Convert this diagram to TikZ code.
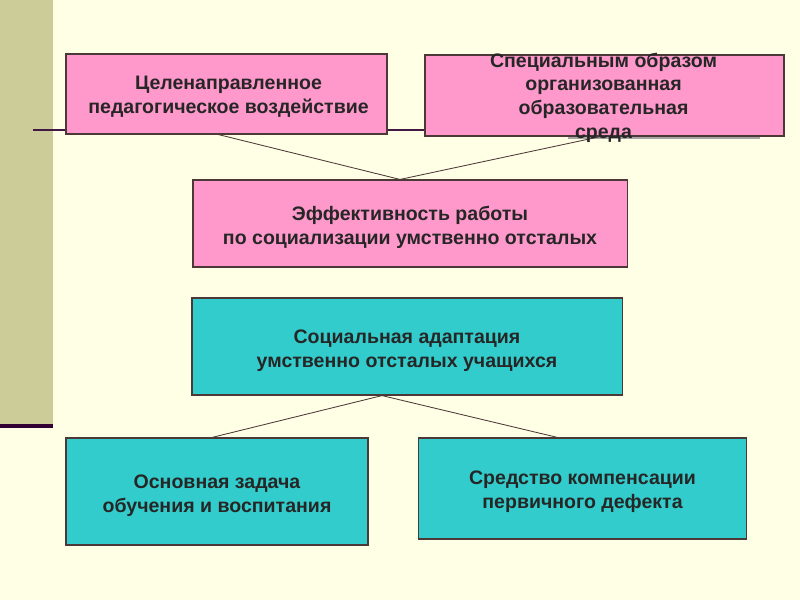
\documentclass[tikz,border=0pt]{standalone}
\usepackage{fontspec}
\setmainfont{Liberation Sans}
\usepackage{tikz}
\usetikzlibrary{calc}
\definecolor{cream}{HTML}{FFFFE5}
\definecolor{khaki}{HTML}{CCCC99}
\definecolor{plum}{HTML}{330033}
\definecolor{rosebox}{HTML}{FF99CC}
\definecolor{tealbox}{HTML}{33CCCC}
\definecolor{edgeline}{HTML}{4D3838}

\begin{document}
\begin{tikzpicture}
	[x=0.025cm,y=-0.025cm,
	box/.style={draw=edgeline,line width=0.8pt,rectangle,inner sep=0pt},
	pinkbox/.style={box,fill=rosebox},
	cyanbox/.style={box,fill=tealbox},
	caption/.style={align=center,text=black!85,font=\bfseries\fontsize{13.9}{16.8}\selectfont},
	link/.style={draw=edgeline,line width=0.6pt}]
	\fill[cream] (0,0) rectangle (800,600);
	\useasboundingbox (0,0) rectangle (800,600);
	\fill[khaki] (0,0) rectangle (53,424);
	\fill[plum] (0,424) rectangle (53,428);
	\coordinate (rule w) at (33,130);
	\coordinate (rule e) at (760,130);
	\draw[plum!80!gray,line width=1.5pt] (rule w) -- (rule e);
	\coordinate (shade w) at (568,137.5);
	\coordinate (shade e) at (760,137.5);
	\draw[gray!70,line width=1.5pt] (shade w) -- (shade e);
	\node[pinkbox,minimum width=8.025cm,minimum height=2cm] (goal) at (226.5,94) {};
	\node[pinkbox,minimum width=8.975cm,minimum height=2.025cm] (env) at (604.5,95.5) {};
	\node[pinkbox,minimum width=10.85cm,minimum height=2.175cm] (eff) at (410,223.5) {};
	\node[cyanbox,minimum width=10.75cm,minimum height=2.425cm] (adapt) at (407,346.5) {};
	\node[cyanbox,minimum width=7.55cm,minimum height=2.675cm] (task) at (217,491.5) {};
	\node[cyanbox,minimum width=8.2cm,minimum height=2.525cm] (means) at (582.5,488.5) {};
	\draw[link] ($(goal.south)+(-8,0)$) -- ($(eff.north)+(-10,0)$);
	\draw[link] ($(env.south)+(-4,0)$) -- ($(eff.north)+(-10,0)$);
	\draw[link] ($(adapt.south)+(-25,0)$) -- ($(task.north)+(-5,0)$);
	\draw[link] ($(adapt.south)+(-25,0)$) -- ($(means.north)+(-25,0)$);
	\node[caption] (goaltext) at ($(goal.center)+(2,3)$)
		{Целенаправленное\\педагогическое воздействие};
	\node[caption] (envtext) at ($(env.center)+(-1,2)$)
		{Специальным образом\\организованная\\образовательная\\среда};
	\node[caption] (efftext) at ($(eff.center)+(0,4)$)
		{Эффективность работы\\по социализации умственно отсталых};
	\node[caption] (adapttext) at ($(adapt.center)+(0,4)$)
		{Социальная адаптация\\умственно отсталых учащихся};
	\node[caption] (tasktext) at ($(task.center)+(0,4)$)
		{Основная задача\\обучения и воспитания};
	\node[caption] (meanstext) at ($(means.center)+(0,3)$)
		{Средство компенсации\\первичного дефекта};
\end{tikzpicture}
\end{document}
